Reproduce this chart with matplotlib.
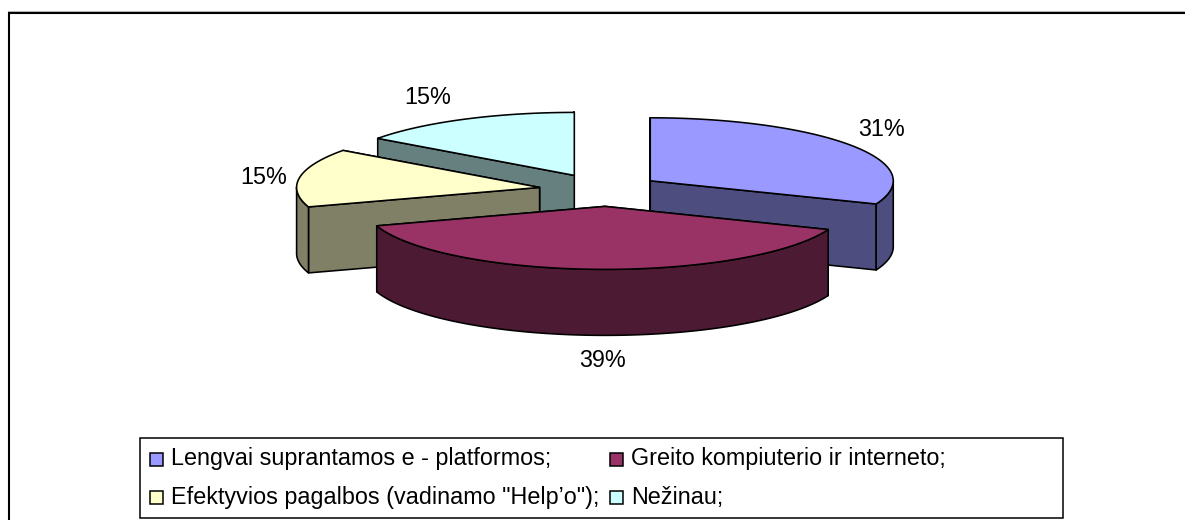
import numpy as np
import matplotlib
matplotlib.use('Agg')
import matplotlib.pyplot as plt
from matplotlib.patches import Polygon, Rectangle

plt.rcParams['font.family'] = ['Liberation Sans', 'DejaVu Sans']

# Data
categories = ['Lengvai suprantamos e - platformos;', 'Greito kompiuterio ir interneto;',
              'Efektyvios pagalbos (vadinamo "Help\u2019o");', 'Ne\u017einau;']
values = [31, 39, 15, 15]
value_labels = ['31%', '39%', '15%', '15%']

# Styles
top_colors = ['#9999FF', '#993366', '#FFFFCC', '#CCFFFF']
side_colors = ['#4D4D80', '#4D1A33', '#808066', '#668080']
draw_order = [3, 2, 0, 1]  # back to front
label_offsets = [(30, -16), (5, 25), (-36, 0), (-36, -22)]
legend_slots = [(150, 171, 459, 465), (610, 631, 459, 465),
                (150, 171, 497, 504), (610, 631, 497, 504)]
# small corrections for the perspective of the original 3D pie
slice_nudge = [(-6, 0), (3, 0), (-2, 0), (-1, 0)]
slice_rx = [243, 240, 243, 243]

# Pie geometry, in pixels
CX, CY = 604, 190
RX, RY = 243, 63
DEPTH = 66
EXPLODE = 0.26
FS = 16.8
LW = 1.15

fig = plt.figure(figsize=(11.85, 5.2), dpi=100, facecolor='white')
ax = fig.add_axes([0, 0, 1, 1])
ax.set_xlim(0, 1185)
ax.set_ylim(520, 0)
ax.axis('off')


def rim(a0, a1, ox, oy, rx):
    # angles in degrees, clockwise from 12 o'clock
    t = np.radians(np.linspace(a0, a1, 120))
    return np.column_stack([ox + rx * np.sin(t), oy - RY * np.cos(t)])


def shape(pts, color, z):
    ax.add_patch(Polygon(pts, closed=True, facecolor=color, edgecolor='black',
                         linewidth=LW, joinstyle='round', zorder=z))


# Chart frame, open on the right and at the bottom
ax.plot([8.5, 8.5, 1185], [520, 12.5, 12.5], color='black', lw=1.5, zorder=1,
        solid_joinstyle='miter')
ax.plot([8, 1185], [11, 11], color='#b0b0b0', lw=0.7, zorder=1)

edges = np.cumsum([0] + values) / sum(values) * 360
drop = np.array([0, DEPTH])

z = 2
for i in draw_order:
    a0, a1 = edges[i], edges[i + 1]
    mid = np.radians((a0 + a1) / 2)
    rx = slice_rx[i]
    ox = CX + EXPLODE * RX * np.sin(mid) + slice_nudge[i][0]
    oy = CY - EXPLODE * RY * np.cos(mid) + slice_nudge[i][1]
    apex = np.array([ox, oy])
    arc = rim(a0, a1, ox, oy, rx)

    # cut faces going down from the two radial edges
    for end in sorted([arc[0], arc[-1]], key=lambda p: p[1]):
        shape([apex, end, end + drop, apex + drop], side_colors[i], z)
        z += 1

    # outer wall, only the part facing the viewer
    lo, hi = max(a0, 90), min(a1, 270)
    if lo < hi:
        wall = rim(lo, hi, ox, oy, rx)
        shape(np.vstack([wall, (wall + drop)[::-1]]), side_colors[i], z)
        z += 1

    shape(np.vstack([apex, arc]), top_colors[i], z)
    z += 1

    # percentage label next to the middle of the rim
    bottom = DEPTH if np.cos(mid) < 0 else 0
    lx = ox + rx * np.sin(mid) + label_offsets[i][0]
    ly = oy - RY * np.cos(mid) + bottom + label_offsets[i][1]
    ax.text(lx, ly, value_labels[i], fontsize=FS, ha='center', va='center',
            color='black', zorder=50)

# Legend
ax.add_patch(Rectangle((140, 438), 923, 80, facecolor='white', edgecolor='black',
                       linewidth=1.1, zorder=40))
for name, color, (sx, tx, sy, by) in zip(categories, top_colors, legend_slots):
    ax.add_patch(Rectangle((sx, sy - 6.5), 13, 13, facecolor=color, edgecolor='black',
                           linewidth=1.1, zorder=41))
    ax.text(tx, by, name, fontsize=FS, ha='left', va='baseline', color='black', zorder=41)

plt.savefig('out.png', dpi=100)
